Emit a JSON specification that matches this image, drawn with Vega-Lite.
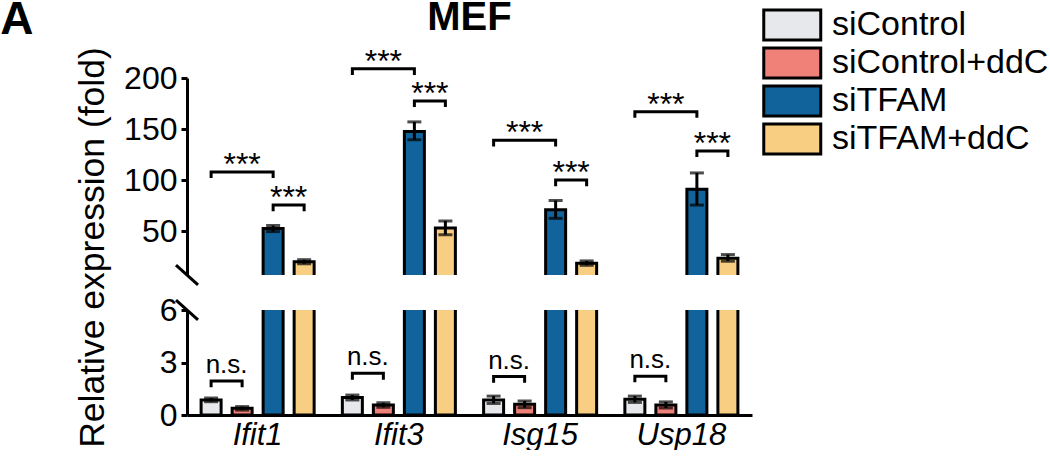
{
  "$schema": "https://vega.github.io/schema/vega-lite/v6.json",
  "padding": {"left": 0, "top": -4, "right": 0, "bottom": 0},
  "datasets": {
    "bars": [
      {"gene": "Ifit1", "cond": "siControl", "mean": 0.86, "lo": 0.76, "hi": 0.97},
      {"gene": "Ifit1", "cond": "siControl+ddC", "mean": 0.38, "lo": 0.28, "hi": 0.48},
      {"gene": "Ifit1", "cond": "siTFAM", "mean": 52.5, "lo": 49.5, "hi": 55.5},
      {"gene": "Ifit1", "cond": "siTFAM+ddC", "mean": 20, "lo": 18, "hi": 22},
      {"gene": "Ifit3", "cond": "siControl", "mean": 1.0, "lo": 0.86, "hi": 1.14},
      {"gene": "Ifit3", "cond": "siControl+ddC", "mean": 0.57, "lo": 0.44, "hi": 0.7},
      {"gene": "Ifit3", "cond": "siTFAM", "mean": 147.5, "lo": 139.5, "hi": 157},
      {"gene": "Ifit3", "cond": "siTFAM+ddC", "mean": 53, "lo": 46.5, "hi": 60},
      {"gene": "Isg15", "cond": "siControl", "mean": 0.86, "lo": 0.66, "hi": 1.08},
      {"gene": "Isg15", "cond": "siControl+ddC", "mean": 0.61, "lo": 0.42, "hi": 0.8},
      {"gene": "Isg15", "cond": "siTFAM", "mean": 71, "lo": 62.5, "hi": 80},
      {"gene": "Isg15", "cond": "siTFAM+ddC", "mean": 18.5, "lo": 16.5, "hi": 20.8},
      {"gene": "Usp18", "cond": "siControl", "mean": 0.9, "lo": 0.72, "hi": 1.08},
      {"gene": "Usp18", "cond": "siControl+ddC", "mean": 0.57, "lo": 0.4, "hi": 0.75},
      {"gene": "Usp18", "cond": "siTFAM", "mean": 91, "lo": 75.5, "hi": 107},
      {"gene": "Usp18", "cond": "siTFAM+ddC", "mean": 23.5, "lo": 20.5, "hi": 27}
    ],
    "brk": [
      {"p": "top", "gene": "Ifit1", "id": "a1", "cond": "siControl", "y": 102, "k": 0},
      {"p": "top", "gene": "Ifit1", "id": "a1", "cond": "siControl", "y": 108, "k": 1},
      {"p": "top", "gene": "Ifit1", "id": "a1", "cond": "siTFAM", "y": 108, "k": 2},
      {"p": "top", "gene": "Ifit1", "id": "a1", "cond": "siTFAM", "y": 102, "k": 3},
      {"p": "top", "gene": "Ifit1", "id": "b1", "cond": "siTFAM", "y": 69.5, "k": 0},
      {"p": "top", "gene": "Ifit1", "id": "b1", "cond": "siTFAM", "y": 75.5, "k": 1},
      {"p": "top", "gene": "Ifit1", "id": "b1", "cond": "siTFAM+ddC", "y": 75.5, "k": 2},
      {"p": "top", "gene": "Ifit1", "id": "b1", "cond": "siTFAM+ddC", "y": 69.5, "k": 3},
      {"p": "top", "gene": "Ifit3", "id": "a3", "cond": "siControl", "y": 203, "k": 0},
      {"p": "top", "gene": "Ifit3", "id": "a3", "cond": "siControl", "y": 209, "k": 1},
      {"p": "top", "gene": "Ifit3", "id": "a3", "cond": "siTFAM", "y": 209, "k": 2},
      {"p": "top", "gene": "Ifit3", "id": "a3", "cond": "siTFAM", "y": 203, "k": 3},
      {"p": "top", "gene": "Ifit3", "id": "b3", "cond": "siTFAM", "y": 171.5, "k": 0},
      {"p": "top", "gene": "Ifit3", "id": "b3", "cond": "siTFAM", "y": 177.5, "k": 1},
      {"p": "top", "gene": "Ifit3", "id": "b3", "cond": "siTFAM+ddC", "y": 177.5, "k": 2},
      {"p": "top", "gene": "Ifit3", "id": "b3", "cond": "siTFAM+ddC", "y": 171.5, "k": 3},
      {"p": "top", "gene": "Isg15", "id": "a15", "cond": "siControl", "y": 133, "k": 0},
      {"p": "top", "gene": "Isg15", "id": "a15", "cond": "siControl", "y": 139, "k": 1},
      {"p": "top", "gene": "Isg15", "id": "a15", "cond": "siTFAM", "y": 139, "k": 2},
      {"p": "top", "gene": "Isg15", "id": "a15", "cond": "siTFAM", "y": 133, "k": 3},
      {"p": "top", "gene": "Isg15", "id": "b15", "cond": "siTFAM", "y": 94, "k": 0},
      {"p": "top", "gene": "Isg15", "id": "b15", "cond": "siTFAM", "y": 100, "k": 1},
      {"p": "top", "gene": "Isg15", "id": "b15", "cond": "siTFAM+ddC", "y": 100, "k": 2},
      {"p": "top", "gene": "Isg15", "id": "b15", "cond": "siTFAM+ddC", "y": 94, "k": 3},
      {"p": "top", "gene": "Usp18", "id": "a18", "cond": "siControl", "y": 161, "k": 0},
      {"p": "top", "gene": "Usp18", "id": "a18", "cond": "siControl", "y": 167, "k": 1},
      {"p": "top", "gene": "Usp18", "id": "a18", "cond": "siTFAM", "y": 167, "k": 2},
      {"p": "top", "gene": "Usp18", "id": "a18", "cond": "siTFAM", "y": 161, "k": 3},
      {"p": "top", "gene": "Usp18", "id": "b18", "cond": "siTFAM", "y": 122.5, "k": 0},
      {"p": "top", "gene": "Usp18", "id": "b18", "cond": "siTFAM", "y": 128.5, "k": 1},
      {"p": "top", "gene": "Usp18", "id": "b18", "cond": "siTFAM+ddC", "y": 128.5, "k": 2},
      {"p": "top", "gene": "Usp18", "id": "b18", "cond": "siTFAM+ddC", "y": 122.5, "k": 3},
      {"p": "bot", "gene": "Ifit1", "id": "n1", "cond": "siControl", "y": 1.58, "k": 0},
      {"p": "bot", "gene": "Ifit1", "id": "n1", "cond": "siControl", "y": 1.95, "k": 1},
      {"p": "bot", "gene": "Ifit1", "id": "n1", "cond": "siControl+ddC", "y": 1.95, "k": 2},
      {"p": "bot", "gene": "Ifit1", "id": "n1", "cond": "siControl+ddC", "y": 1.58, "k": 3},
      {"p": "bot", "gene": "Ifit3", "id": "n3", "cond": "siControl", "y": 2.02, "k": 0},
      {"p": "bot", "gene": "Ifit3", "id": "n3", "cond": "siControl", "y": 2.38, "k": 1},
      {"p": "bot", "gene": "Ifit3", "id": "n3", "cond": "siControl+ddC", "y": 2.38, "k": 2},
      {"p": "bot", "gene": "Ifit3", "id": "n3", "cond": "siControl+ddC", "y": 2.02, "k": 3},
      {"p": "bot", "gene": "Isg15", "id": "n15", "cond": "siControl", "y": 1.85, "k": 0},
      {"p": "bot", "gene": "Isg15", "id": "n15", "cond": "siControl", "y": 2.2, "k": 1},
      {"p": "bot", "gene": "Isg15", "id": "n15", "cond": "siControl+ddC", "y": 2.2, "k": 2},
      {"p": "bot", "gene": "Isg15", "id": "n15", "cond": "siControl+ddC", "y": 1.85, "k": 3},
      {"p": "bot", "gene": "Usp18", "id": "n18", "cond": "siControl", "y": 1.87, "k": 0},
      {"p": "bot", "gene": "Usp18", "id": "n18", "cond": "siControl", "y": 2.22, "k": 1},
      {"p": "bot", "gene": "Usp18", "id": "n18", "cond": "siControl+ddC", "y": 2.22, "k": 2},
      {"p": "bot", "gene": "Usp18", "id": "n18", "cond": "siControl+ddC", "y": 1.87, "k": 3}
    ],
    "lab": [
      {"p": "top", "kind": "mid", "gene": "Ifit1", "cond": "siControl+ddC", "y": 108, "t": "***"},
      {"p": "top", "kind": "half", "gene": "Ifit1", "cond": "siTFAM", "y": 75.5, "t": "***"},
      {"p": "top", "kind": "mid", "gene": "Ifit3", "cond": "siControl+ddC", "y": 209, "t": "***"},
      {"p": "top", "kind": "half", "gene": "Ifit3", "cond": "siTFAM", "y": 177.5, "t": "***"},
      {"p": "top", "kind": "mid", "gene": "Isg15", "cond": "siControl+ddC", "y": 139, "t": "***"},
      {"p": "top", "kind": "half", "gene": "Isg15", "cond": "siTFAM", "y": 100, "t": "***"},
      {"p": "top", "kind": "mid", "gene": "Usp18", "cond": "siControl+ddC", "y": 167, "t": "***"},
      {"p": "top", "kind": "half", "gene": "Usp18", "cond": "siTFAM", "y": 128.5, "t": "***"},
      {"p": "bot", "kind": "half", "gene": "Ifit1", "cond": "siControl", "y": 1.95, "t": "n.s."},
      {"p": "bot", "kind": "half", "gene": "Ifit3", "cond": "siControl", "y": 2.38, "t": "n.s."},
      {"p": "bot", "kind": "half", "gene": "Isg15", "cond": "siControl", "y": 2.2, "t": "n.s."},
      {"p": "bot", "kind": "half", "gene": "Usp18", "cond": "siControl", "y": 2.22, "t": "n.s."}
    ]
  },
  "title": {"text": "A", "orient": "left", "angle": 0, "anchor": "end", "frame": "bounds", "align": "right", "baseline": "top", "fontSize": 46, "fontWeight": "bold", "font": "Liberation Sans", "color": "black", "offset": 9},
  "spacing": 35,
  "bounds": "flush",
  "resolve": {"scale": {"color": "shared"}},
  "config": {
    "view": {"stroke": null},
    "font": "Liberation Sans",
    "axis": {"domainColor": "black", "domainWidth": 3, "tickColor": "black", "tickWidth": 3, "tickSize": 6, "labelFont": "Liberation Sans", "labelFontSize": 32, "labelColor": "black", "labelPadding": 4, "grid": false, "titleFont": "Liberation Sans", "titleFontSize": 35.5, "titleFontWeight": "normal", "titleColor": "black"}
  },
  "vconcat": [
    {
      "width": 565,
      "height": 197,
      "title": {"text": "MEF", "fontSize": 40, "fontWeight": "bold", "font": "Liberation Sans", "color": "black", "anchor": "middle", "frame": "group", "offset": 8},
      "layer": [
        {
          "data": {"name": "bars"},
          "mark": {"type": "bar", "clip": true, "stroke": "black", "strokeWidth": 3},
          "encoding": {
            "x": {"field": "gene", "type": "nominal", "sort": ["Ifit1", "Ifit3", "Isg15", "Usp18"], "scale": {"paddingInner": 0, "paddingOuter": 0}, "axis": null},
            "xOffset": {"field": "cond", "type": "nominal", "scale": {"domain": ["siControl", "siControl+ddC", "siTFAM", "siTFAM+ddC"], "paddingInner": 0.355, "paddingOuter": 0.455}},
            "y": {"field": "mean", "type": "quantitative", "title": "Relative expression (fold)", "stack": null, "scale": {"domain": [7, 200], "nice": false, "zero": false}, "axis": {"values": [50, 100, 150, 200], "titleY": 169, "titlePadding": 13}},
            "y2": {"datum": 0},
            "fill": {"field": "cond", "type": "nominal", "scale": {"domain": ["siControl", "siControl+ddC", "siTFAM", "siTFAM+ddC"], "range": ["#e6e8eb", "#f08178", "#11649b", "#f8ce82"]}, "legend": {"title": null, "orient": "none", "legendX": 574, "legendY": -70, "padding": 0, "symbolType": "M-1,-1.05H3V1.05H-1Z", "symbolSize": 812, "symbolStrokeColor": "black", "symbolStrokeWidth": 3, "symbolOpacity": 1, "labelFont": "Liberation Sans", "labelFontSize": 34, "labelColor": "black", "labelOffset": 37, "labelLimit": 400, "rowPadding": -16}}
          }
        },
        {
          "data": {"name": "bars"},
          "mark": {"type": "rule", "clip": true, "stroke": "black", "strokeWidth": 3},
          "encoding": {
            "x": {"field": "gene", "type": "nominal", "sort": ["Ifit1", "Ifit3", "Isg15", "Usp18"], "axis": null},
            "xOffset": {"field": "cond", "type": "nominal"},
            "y": {"field": "lo", "type": "quantitative", "title": "Relative expression (fold)"},
            "y2": {"field": "hi"}
          }
        },
        {
          "data": {"name": "bars"},
          "mark": {"type": "tick", "clip": true, "color": "black", "orient": "horizontal", "size": 14, "thickness": 3},
          "encoding": {
            "x": {"field": "gene", "type": "nominal", "sort": ["Ifit1", "Ifit3", "Isg15", "Usp18"], "axis": null},
            "xOffset": {"field": "cond", "type": "nominal"},
            "y": {"field": "hi", "type": "quantitative", "title": "Relative expression (fold)"}
          }
        },
        {
          "data": {"name": "bars"},
          "mark": {"type": "tick", "clip": true, "color": "black", "orient": "horizontal", "size": 14, "thickness": 3},
          "encoding": {
            "x": {"field": "gene", "type": "nominal", "sort": ["Ifit1", "Ifit3", "Isg15", "Usp18"], "axis": null},
            "xOffset": {"field": "cond", "type": "nominal"},
            "y": {"field": "lo", "type": "quantitative", "title": "Relative expression (fold)"}
          }
        },
        {
          "data": {"name": "brk"},
          "transform": [{"filter": "datum.p === 'top'"}],
          "mark": {"type": "line", "stroke": "black", "strokeWidth": 3, "strokeJoin": "miter", "strokeCap": "butt"},
          "encoding": {
            "x": {"field": "gene", "type": "nominal", "sort": ["Ifit1", "Ifit3", "Isg15", "Usp18"], "axis": null},
            "xOffset": {"field": "cond", "type": "nominal"},
            "y": {"field": "y", "type": "quantitative", "title": "Relative expression (fold)"},
            "detail": {"field": "id"},
            "order": {"field": "k", "type": "quantitative"}
          }
        },
        {
          "data": {"name": "lab"},
          "transform": [{"filter": "datum.p === 'top' && datum.kind === 'mid'"}],
          "mark": {"type": "text", "font": "Liberation Sans", "fontSize": 32, "baseline": "alphabetic", "align": "center", "dy": 3, "color": "black"},
          "encoding": {
            "x": {"field": "gene", "type": "nominal", "sort": ["Ifit1", "Ifit3", "Isg15", "Usp18"], "axis": null},
            "xOffset": {"field": "cond", "type": "nominal"},
            "y": {"field": "y", "type": "quantitative", "title": "Relative expression (fold)"},
            "text": {"field": "t"}
          }
        },
        {
          "data": {"name": "lab"},
          "transform": [{"filter": "datum.p === 'top' && datum.kind === 'half'"}],
          "mark": {"type": "text", "font": "Liberation Sans", "fontSize": 32, "baseline": "alphabetic", "align": "center", "dy": 3, "dx": 15.5, "color": "black"},
          "encoding": {
            "x": {"field": "gene", "type": "nominal", "sort": ["Ifit1", "Ifit3", "Isg15", "Usp18"], "axis": null},
            "xOffset": {"field": "cond", "type": "nominal"},
            "y": {"field": "y", "type": "quantitative", "title": "Relative expression (fold)"},
            "text": {"field": "t"}
          }
        },
        {
          "data": {"values": [{"gene": "Ifit1"}]},
          "mark": {"type": "point", "shape": "M-1,-0.9L1,0.9", "size": 484, "stroke": "black", "strokeWidth": 3, "filled": false, "opacity": 1},
          "encoding": {
            "x": {"field": "gene", "type": "nominal", "bandPosition": 0, "axis": null},
            "y": {"datum": 7, "type": "quantitative"}
          }
        }
      ]
    },
    {
      "width": 565,
      "height": 105,
      "layer": [
        {
          "data": {"name": "bars"},
          "mark": {"type": "bar", "clip": true, "stroke": "black", "strokeWidth": 3},
          "encoding": {
            "x": {"field": "gene", "type": "nominal", "sort": ["Ifit1", "Ifit3", "Isg15", "Usp18"], "title": null, "scale": {"paddingInner": 0, "paddingOuter": 0}, "axis": {"labelFontStyle": "italic", "labelFontSize": 31, "ticks": false, "tickSize": 0, "labelPadding": 5, "labelAngle": 0}},
            "xOffset": {"field": "cond", "type": "nominal", "scale": {"domain": ["siControl", "siControl+ddC", "siTFAM", "siTFAM+ddC"], "paddingInner": 0.355, "paddingOuter": 0.455}},
            "y": {"field": "mean", "type": "quantitative", "title": null, "stack": null, "scale": {"domain": [0, 6], "nice": false}, "axis": {"values": [0, 3, 6]}},
            "y2": {"datum": 0},
            "fill": {"field": "cond", "type": "nominal", "legend": null}
          }
        },
        {
          "data": {"name": "bars"},
          "mark": {"type": "rule", "clip": true, "stroke": "black", "strokeWidth": 3},
          "encoding": {
            "x": {"field": "gene", "type": "nominal", "sort": ["Ifit1", "Ifit3", "Isg15", "Usp18"], "title": null},
            "xOffset": {"field": "cond", "type": "nominal"},
            "y": {"field": "lo", "type": "quantitative", "title": null},
            "y2": {"field": "hi"}
          }
        },
        {
          "data": {"name": "bars"},
          "mark": {"type": "tick", "clip": true, "color": "black", "orient": "horizontal", "size": 14, "thickness": 3},
          "encoding": {
            "x": {"field": "gene", "type": "nominal", "sort": ["Ifit1", "Ifit3", "Isg15", "Usp18"], "title": null},
            "xOffset": {"field": "cond", "type": "nominal"},
            "y": {"field": "hi", "type": "quantitative", "title": null}
          }
        },
        {
          "data": {"name": "bars"},
          "mark": {"type": "tick", "clip": true, "color": "black", "orient": "horizontal", "size": 14, "thickness": 3},
          "encoding": {
            "x": {"field": "gene", "type": "nominal", "sort": ["Ifit1", "Ifit3", "Isg15", "Usp18"], "title": null},
            "xOffset": {"field": "cond", "type": "nominal"},
            "y": {"field": "lo", "type": "quantitative", "title": null}
          }
        },
        {
          "data": {"name": "brk"},
          "transform": [{"filter": "datum.p === 'bot'"}],
          "mark": {"type": "line", "stroke": "black", "strokeWidth": 3, "strokeJoin": "miter", "strokeCap": "butt"},
          "encoding": {
            "x": {"field": "gene", "type": "nominal", "sort": ["Ifit1", "Ifit3", "Isg15", "Usp18"], "title": null},
            "xOffset": {"field": "cond", "type": "nominal"},
            "y": {"field": "y", "type": "quantitative", "title": null},
            "detail": {"field": "id"},
            "order": {"field": "k", "type": "quantitative"}
          }
        },
        {
          "data": {"name": "lab"},
          "transform": [{"filter": "datum.p === 'bot'"}],
          "mark": {"type": "text", "font": "Liberation Sans", "fontSize": 26, "baseline": "alphabetic", "align": "center", "dy": -8, "dx": 15.5, "color": "black"},
          "encoding": {
            "x": {"field": "gene", "type": "nominal", "sort": ["Ifit1", "Ifit3", "Isg15", "Usp18"], "title": null},
            "xOffset": {"field": "cond", "type": "nominal"},
            "y": {"field": "y", "type": "quantitative", "title": null},
            "text": {"field": "t"}
          }
        },
        {
          "data": {"values": [{"gene": "Ifit1"}]},
          "mark": {"type": "point", "shape": "M-1,-0.9L1,0.9", "size": 484, "stroke": "black", "strokeWidth": 3, "filled": false, "opacity": 1},
          "encoding": {
            "x": {"field": "gene", "type": "nominal", "bandPosition": 0, "title": null},
            "y": {"datum": 6, "type": "quantitative"}
          }
        }
      ]
    }
  ]
}
